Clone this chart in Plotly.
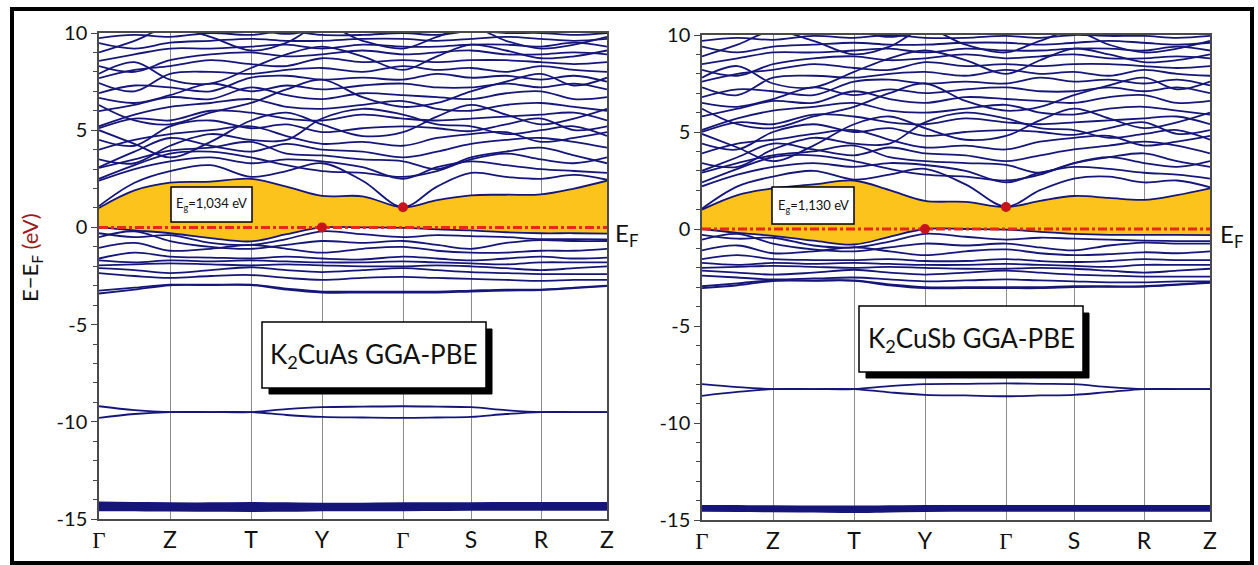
import plotly.graph_objects as go

W, H = 1258, 565

# k-path (15 samples: high-symmetry points and segment midpoints)
k_hs = [0, 71, 152, 223, 304, 372, 442, 508]
k_labels = ["Γ", "Z", "T", "Y", "Γ", "S", "R", "Z"]
k_pts = [0, 35.5, 71, 111.5, 152, 187.5, 223, 263.5, 304, 338, 372, 407, 442, 475, 508]

# ---------------- K2CuAs (left) ----------------
as_cond = [
    [1.00, 1.90, 2.30, 2.35, 2.50, 2.10, 1.62, 1.60, 1.03, 1.40, 1.65, 1.68, 1.70, 2.00, 2.40],
    [1.10, 2.30, 2.90, 3.20, 2.60, 2.90, 3.30, 2.40, 1.05, 2.10, 2.80, 2.60, 2.50, 2.70, 2.45],
    [2.40, 3.00, 3.40, 3.60, 3.30, 3.50, 3.40, 3.10, 2.50, 3.10, 3.40, 3.20, 3.00, 2.90, 2.80],
    [3.06, 3.50, 3.95, 4.10, 4.40, 3.80, 3.70, 3.50, 3.40, 3.00, 3.60, 3.90, 4.10, 3.70, 3.30],
    [3.10, 3.90, 4.60, 4.20, 3.90, 4.30, 4.00, 3.90, 3.60, 3.90, 4.30, 4.50, 4.60, 4.40, 4.10],
    [4.00, 4.50, 4.80, 5.00, 5.20, 4.70, 4.30, 4.40, 4.20, 4.60, 4.80, 4.90, 4.40, 4.60, 4.90],
    [4.50, 4.20, 5.20, 5.50, 5.10, 5.30, 4.90, 5.10, 5.20, 5.10, 4.95, 5.30, 5.60, 5.00, 5.20],
    [5.10, 5.60, 5.50, 6.00, 5.90, 5.60, 5.50, 5.80, 5.60, 5.50, 5.60, 5.70, 5.80, 5.90, 5.50],
    [5.20, 5.80, 6.20, 6.40, 6.60, 6.20, 6.10, 6.30, 6.50, 6.10, 6.00, 6.30, 6.40, 6.20, 6.00],
    [5.98, 6.30, 6.70, 6.60, 7.20, 6.80, 6.60, 6.90, 6.80, 6.70, 6.60, 6.90, 7.00, 6.60, 6.70],
    [6.66, 6.40, 6.80, 7.40, 7.00, 7.30, 7.10, 7.30, 7.40, 7.20, 7.20, 7.40, 7.20, 7.40, 7.10],
    [6.91, 7.30, 7.20, 7.00, 7.70, 7.80, 7.60, 7.70, 7.60, 7.90, 7.70, 7.80, 7.60, 7.80, 7.50],
    [7.43, 7.00, 7.90, 8.00, 7.90, 8.10, 8.20, 8.00, 8.30, 8.10, 8.20, 8.00, 8.30, 8.10, 8.00],
    [7.68, 8.10, 8.30, 8.60, 8.40, 8.30, 8.70, 8.50, 8.60, 8.50, 8.60, 8.60, 8.50, 8.40, 8.50],
    [8.30, 8.00, 8.60, 8.90, 9.00, 8.80, 8.90, 9.10, 8.90, 9.00, 9.10, 8.90, 8.90, 9.00, 8.90],
    [8.56, 8.90, 9.20, 9.20, 9.30, 9.40, 9.20, 9.40, 9.30, 9.30, 9.40, 9.40, 9.30, 9.50, 9.30],
    [9.48, 9.20, 9.50, 9.60, 9.70, 9.60, 9.60, 9.70, 9.70, 9.60, 9.70, 9.80, 9.70, 9.60, 9.70],
    [9.74, 9.90, 9.80, 10.0, 9.90, 10.1, 9.90, 9.90, 10.0, 9.90, 10.1, 10.0, 10.0, 9.90, 10.0],
    [10.2, 10.4, 10.1, 10.3, 10.2, 9.95, 10.2, 10.3, 10.2, 10.3, 10.2, 10.3, 10.4, 10.2, 10.3],
    [5.00, 4.30, 3.60, 4.40, 5.50, 5.90, 5.30, 4.70, 4.90, 5.70, 6.30, 5.80, 5.30, 5.60, 6.10],
    [6.30, 5.50, 5.30, 5.90, 6.40, 7.10, 7.60, 6.70, 6.20, 6.40, 7.00, 7.50, 7.90, 7.30, 7.70],
    [7.90, 8.50, 7.60, 7.40, 8.20, 8.90, 9.30, 8.80, 8.10, 8.80, 9.40, 9.10, 8.70, 8.80, 9.10],
    [3.50, 3.30, 4.20, 4.80, 4.50, 4.50, 5.60, 6.10, 5.80, 5.30, 5.20, 4.80, 5.00, 5.20, 4.70],
    [2.50, 3.20, 3.80, 3.90, 3.60, 3.20, 2.90, 2.80, 2.60, 2.90, 3.50, 3.80, 3.50, 3.30, 3.60],
    [9.00, 9.60, 10.3, 9.80, 9.10, 9.50, 10.4, 9.60, 9.20, 9.80, 10.3, 9.60, 9.20, 9.40, 9.80],
]
as_val = [
    [0.00, -0.15, -0.30, -0.55, -0.72, -0.35, 0.00, 0.00, -0.02, -0.10, -0.15, -0.25, -0.30, -0.30, -0.32],
    [-0.30, -0.50, -0.40, -0.80, -0.90, -0.60, -0.20, -0.35, -0.50, -0.40, -0.45, -0.50, -0.60, -0.60, -0.62],
    [-0.50, -0.20, -0.70, -1.00, -1.10, -0.90, -0.70, -0.80, -0.70, -0.90, -1.10, -0.80, -0.65, -0.70, -0.70],
    [-1.05, -0.80, -1.20, -1.10, -0.90, -1.10, -1.30, -1.10, -1.00, -1.20, -1.30, -1.30, -1.20, -1.20, -1.10],
    [-1.60, -1.30, -1.50, -1.55, -1.60, -1.50, -1.60, -1.65, -1.50, -1.60, -1.70, -1.60, -1.50, -1.60, -1.55],
    [-1.70, -1.80, -1.70, -1.75, -1.70, -1.75, -1.80, -1.80, -1.75, -1.80, -1.85, -1.90, -1.80, -1.80, -1.80],
    [-1.95, -1.90, -1.85, -1.90, -1.95, -1.90, -1.95, -2.00, -2.00, -1.95, -2.00, -2.10, -2.20, -2.10, -2.00],
    [-2.10, -2.20, -2.35, -2.20, -2.05, -2.20, -2.30, -2.20, -2.10, -2.20, -2.30, -2.35, -2.40, -2.40, -2.40],
    [-2.35, -2.50, -2.60, -2.50, -2.45, -2.60, -2.70, -2.60, -2.55, -2.60, -2.65, -2.70, -2.75, -2.70, -2.70],
    [-3.25, -3.10, -2.95, -2.95, -2.95, -3.15, -3.30, -3.30, -3.30, -3.30, -3.25, -3.20, -3.20, -3.10, -3.00],
    [-3.40, -3.20, -2.98, -2.97, -2.97, -3.20, -3.35, -3.35, -3.35, -3.35, -3.30, -3.25, -3.22, -3.12, -3.02],
]
as_semi = [
    [-9.20, -9.40, -9.50, -9.50, -9.50, -9.35, -9.25, -9.22, -9.20, -9.22, -9.25, -9.40, -9.50, -9.50, -9.50],
    [-9.80, -9.60, -9.50, -9.50, -9.50, -9.65, -9.75, -9.78, -9.80, -9.78, -9.75, -9.60, -9.50, -9.50, -9.50],
]
as_deep = [
    [-14.18, -14.20, -14.22, -14.22, -14.20, -14.22, -14.24, -14.24, -14.22, -14.22, -14.22, -14.20, -14.20, -14.20, -14.20],
    [-14.30, -14.31, -14.32, -14.32, -14.31, -14.32, -14.33, -14.33, -14.32, -14.32, -14.32, -14.31, -14.30, -14.30, -14.30],
    [-14.42, -14.42, -14.43, -14.44, -14.44, -14.43, -14.42, -14.42, -14.42, -14.42, -14.41, -14.41, -14.40, -14.40, -14.40],
    [-14.52, -14.53, -14.54, -14.55, -14.56, -14.55, -14.53, -14.52, -14.52, -14.51, -14.50, -14.50, -14.50, -14.50, -14.50],
]
as_gap = 1.034

# ---------------- K2CuSb (right) ----------------
sb_cond = [
    [1.00, 1.75, 2.10, 2.30, 2.50, 2.00, 1.45, 1.40, 1.13, 1.45, 1.70, 1.60, 1.50, 1.75, 2.10],
    [1.05, 2.20, 2.70, 3.00, 2.55, 2.80, 3.10, 2.30, 1.16, 2.00, 2.60, 2.70, 2.40, 2.50, 2.15],
    [2.20, 2.80, 3.20, 3.40, 3.20, 3.40, 3.30, 3.00, 2.40, 2.90, 3.20, 3.10, 2.90, 2.80, 2.60],
    [2.90, 3.40, 3.80, 4.00, 4.30, 3.70, 3.50, 3.40, 3.30, 2.90, 3.40, 3.70, 3.90, 3.50, 3.20],
    [3.00, 3.70, 4.40, 4.10, 3.80, 4.20, 3.90, 3.80, 3.50, 3.80, 4.10, 4.30, 4.50, 4.30, 3.90],
    [3.90, 4.40, 4.60, 4.90, 5.10, 4.60, 4.20, 4.30, 4.10, 4.50, 4.70, 4.80, 4.30, 4.50, 4.80],
    [4.40, 4.10, 5.00, 5.40, 5.00, 5.20, 4.80, 5.00, 5.10, 5.00, 4.85, 5.20, 5.50, 4.90, 5.10],
    [5.00, 5.50, 5.40, 5.90, 5.80, 5.50, 5.40, 5.70, 5.50, 5.40, 5.50, 5.60, 5.70, 5.80, 5.40],
    [5.10, 5.70, 6.10, 6.30, 6.50, 6.10, 6.00, 6.20, 6.40, 6.00, 5.90, 6.20, 6.30, 6.10, 5.90],
    [5.80, 6.20, 6.60, 6.50, 7.10, 6.70, 6.50, 6.80, 6.70, 6.60, 6.50, 6.80, 6.90, 6.50, 6.60],
    [6.50, 6.30, 6.70, 7.30, 6.90, 7.20, 7.00, 7.20, 7.30, 7.10, 7.10, 7.30, 7.10, 7.30, 7.00],
    [6.80, 7.20, 7.10, 6.90, 7.60, 7.70, 7.50, 7.60, 7.50, 7.80, 7.60, 7.70, 7.50, 7.70, 7.40],
    [7.30, 6.90, 7.80, 7.90, 7.80, 8.00, 8.10, 7.90, 8.20, 8.00, 8.10, 7.90, 8.20, 8.00, 7.90],
    [7.60, 8.00, 8.20, 8.50, 8.30, 8.20, 8.60, 8.40, 8.50, 8.40, 8.50, 8.50, 8.40, 8.30, 8.40],
    [8.20, 7.90, 8.50, 8.80, 8.90, 8.70, 8.80, 9.00, 8.80, 8.90, 9.00, 8.80, 8.80, 8.90, 8.80],
    [8.50, 8.80, 9.10, 9.10, 9.20, 9.30, 9.10, 9.30, 9.20, 9.20, 9.30, 9.30, 9.20, 9.40, 9.20],
    [9.40, 9.10, 9.40, 9.50, 9.60, 9.50, 9.50, 9.60, 9.60, 9.50, 9.60, 9.70, 9.60, 9.50, 9.60],
    [9.70, 9.85, 9.75, 9.95, 9.85, 10.0, 9.85, 9.85, 9.95, 9.85, 10.0, 9.95, 9.95, 9.85, 9.95],
    [10.2, 10.4, 10.1, 10.3, 10.2, 9.90, 10.2, 10.3, 10.2, 10.3, 10.2, 10.3, 10.4, 10.2, 10.3],
    [4.90, 4.20, 3.50, 4.30, 5.40, 5.80, 5.20, 4.60, 4.80, 5.60, 6.20, 5.70, 5.20, 5.50, 6.00],
    [6.20, 5.40, 5.20, 5.80, 6.30, 7.00, 7.50, 6.60, 6.10, 6.30, 6.90, 7.40, 7.80, 7.20, 7.60],
    [7.80, 8.40, 7.50, 7.30, 8.10, 8.80, 9.20, 8.70, 8.00, 8.70, 9.30, 9.00, 8.60, 8.70, 9.00],
    [3.40, 3.20, 4.10, 4.70, 4.40, 4.40, 5.50, 6.00, 5.70, 5.20, 5.10, 4.70, 4.90, 5.10, 4.60],
    [2.40, 3.10, 3.70, 3.80, 3.50, 3.10, 2.80, 2.70, 2.50, 2.80, 3.40, 3.70, 3.40, 3.20, 3.50],
    [8.90, 9.50, 10.2, 9.70, 9.00, 9.40, 10.3, 9.50, 9.10, 9.70, 10.2, 9.50, 9.10, 9.30, 9.70],
]
sb_val = [
    [0.00, -0.20, -0.35, -0.60, -0.80, -0.40, 0.00, 0.00, -0.03, -0.15, -0.25, -0.30, -0.30, -0.30, -0.32],
    [-0.30, -0.50, -0.45, -0.85, -0.95, -0.65, -0.25, -0.40, -0.55, -0.45, -0.50, -0.55, -0.60, -0.62, -0.62],
    [-0.55, -0.25, -0.75, -1.05, -1.15, -0.95, -0.75, -0.85, -0.75, -0.95, -1.10, -0.85, -0.70, -0.75, -0.75],
    [-1.10, -0.85, -1.25, -1.15, -0.95, -1.15, -1.35, -1.15, -1.05, -1.25, -1.35, -1.30, -1.20, -1.25, -1.15],
    [-1.55, -1.35, -1.55, -1.60, -1.60, -1.55, -1.65, -1.65, -1.55, -1.65, -1.70, -1.65, -1.55, -1.60, -1.60],
    [-1.75, -1.85, -1.75, -1.80, -1.75, -1.80, -1.85, -1.85, -1.80, -1.85, -1.90, -1.95, -1.85, -1.85, -1.85],
    [-2.00, -1.95, -1.90, -1.95, -2.00, -1.95, -2.00, -2.05, -2.05, -2.00, -2.05, -2.15, -2.25, -2.15, -2.05],
    [-2.15, -2.25, -2.35, -2.25, -2.10, -2.25, -2.35, -2.25, -2.15, -2.25, -2.35, -2.40, -2.45, -2.45, -2.45],
    [-2.40, -2.50, -2.60, -2.55, -2.50, -2.60, -2.70, -2.65, -2.60, -2.65, -2.70, -2.75, -2.75, -2.70, -2.70],
    [-2.95, -2.80, -2.65, -2.65, -2.65, -2.85, -3.00, -3.00, -3.00, -3.00, -2.95, -2.95, -2.95, -2.85, -2.75],
    [-3.05, -2.90, -2.68, -2.67, -2.67, -2.90, -3.05, -3.05, -3.05, -3.05, -3.00, -2.98, -2.97, -2.88, -2.78],
]
sb_semi = [
    [-8.00, -8.15, -8.25, -8.25, -8.25, -8.10, -8.00, -7.98, -7.96, -7.98, -8.00, -8.15, -8.25, -8.25, -8.25],
    [-8.60, -8.40, -8.25, -8.25, -8.25, -8.42, -8.55, -8.58, -8.62, -8.58, -8.55, -8.40, -8.25, -8.25, -8.25],
]
sb_deep = [
    [-14.30, -14.31, -14.32, -14.33, -14.33, -14.32, -14.31, -14.30, -14.30, -14.30, -14.30, -14.30, -14.30, -14.30, -14.30],
    [-14.40, -14.41, -14.42, -14.44, -14.46, -14.43, -14.41, -14.40, -14.40, -14.40, -14.40, -14.40, -14.40, -14.40, -14.40],
    [-14.50, -14.51, -14.52, -14.54, -14.56, -14.53, -14.51, -14.50, -14.50, -14.50, -14.50, -14.50, -14.50, -14.50, -14.50],
]
sb_gap = 1.130

# ---------------- styling ----------------
BAND = "#16167a"
FILL = "#fbc31c"
RED = "#e8261c"
DOT = "#c8141c"
FONT = "Lato"

fig = go.Figure()


def add_panel(xa, ya, cond, val, semi, deep):
    # yellow gap between valence maximum band and conduction minimum band
    fig.add_trace(go.Scatter(x=k_pts, y=val[0], mode="lines", xaxis=xa, yaxis=ya,
                             line=dict(width=0, color="rgba(0,0,0,0)", shape="spline"),
                             showlegend=False, hoverinfo="skip"))
    fig.add_trace(go.Scatter(x=k_pts, y=cond[0], mode="lines", xaxis=xa, yaxis=ya,
                             fill="tonexty", fillcolor=FILL,
                             line=dict(width=0, color="rgba(0,0,0,0)", shape="spline"),
                             showlegend=False, hoverinfo="skip"))
    for b in cond + val + semi:
        fig.add_trace(go.Scatter(x=k_pts, y=b, mode="lines", xaxis=xa, yaxis=ya,
                                 line=dict(width=1.8, color=BAND, shape="spline"),
                                 showlegend=False, hoverinfo="skip"))
    for b in deep:
        fig.add_trace(go.Scatter(x=k_pts, y=b, mode="lines", xaxis=xa, yaxis=ya,
                                 line=dict(width=3, color=BAND, shape="spline"),
                                 showlegend=False, hoverinfo="skip"))
    # Fermi level
    fig.add_trace(go.Scatter(x=[k_hs[0], k_hs[-1]], y=[0, 0], mode="lines", xaxis=xa, yaxis=ya,
                             line=dict(width=3, color=RED, dash="dashdot"),
                             showlegend=False, hoverinfo="skip"))


add_panel("x", "y", as_cond, as_val, as_semi, as_deep)
add_panel("x2", "y2", sb_cond, sb_val, sb_semi, sb_deep)

# VBM / CBM markers
fig.add_trace(go.Scatter(x=[k_hs[3], k_hs[4]], y=[0, as_gap], mode="markers", xaxis="x", yaxis="y",
                         marker=dict(size=10, color=DOT), showlegend=False, hoverinfo="skip"))
fig.add_trace(go.Scatter(x=[k_hs[3], k_hs[4]], y=[0, sb_gap], mode="markers", xaxis="x2", yaxis="y2",
                         marker=dict(size=10, color=DOT), showlegend=False, hoverinfo="skip"))

ytickvals = [-15, -10, -5, 0, 5, 10]
yticktext = ["-15", "-10", "-5", "0", "5", "10"]
xticktext = ["<span style='font-family:Liberation Serif'>Γ</span>" if l == "Γ" else l for l in k_labels]


def xaxis(dom, anchor):
    return dict(domain=dom, anchor=anchor, range=[k_hs[0], k_hs[-1]], tickmode="array", tickvals=k_hs,
                ticktext=xticktext, showgrid=True, gridcolor="#8c8c8c", gridwidth=1,
                zeroline=False, showline=True, mirror=True, linecolor="#4a4a4a", linewidth=1.5,
                ticks="", tickfont=dict(family=FONT, size=23, color="#111"), automargin=False)


def yaxis(dom, anchor):
    return dict(domain=dom, anchor=anchor, range=[-15, 10], tickmode="array", tickvals=ytickvals,
                ticktext=yticktext, showgrid=False, zeroline=False, showline=True, mirror=True,
                linecolor="#4a4a4a", linewidth=1.5, ticks="outside", ticklen=6, tickcolor="#444",
                minor=dict(tickmode="array", tickvals=list(range(-15, 11)), ticks="outside",
                           ticklen=4, tickcolor="#444"),
                tickfont=dict(family=FONT, size=20, color="#111"), automargin=False)


def px(x):
    return x / W


def py(y):
    return 1 - y / H


fig.update_layout(
    width=W, height=H, autosize=False,
    margin=dict(l=0, r=0, t=0, b=0, pad=0, autoexpand=False),
    paper_bgcolor="white", plot_bgcolor="white",
    xaxis=xaxis([px(99), px(607)], "y"),
    yaxis=yaxis([py(519), py(33)], "x"),
    xaxis2=xaxis([px(702), px(1210)], "y2"),
    yaxis2=yaxis([py(520), py(35)], "x2"),
)

shapes = [
    # outer frame
    dict(type="rect", xref="paper", yref="paper", x0=px(12), x1=px(1252), y0=py(563), y1=py(9),
         line=dict(color="black", width=4), fillcolor="rgba(0,0,0,0)", layer="above"),
    # Eg boxes
    dict(type="rect", xref="paper", yref="paper", x0=px(171), x1=px(252), y0=py(222), y1=py(187),
         line=dict(color="black", width=1.5), fillcolor="white", layer="above"),
    dict(type="rect", xref="paper", yref="paper", x0=px(772), x1=px(854), y0=py(224), y1=py(187),
         line=dict(color="black", width=1.5), fillcolor="white", layer="above"),
    # compound boxes with shadow
    dict(type="rect", xref="paper", yref="paper", x0=px(269), x1=px(492), y0=py(394), y1=py(329),
         line=dict(color="black", width=1), fillcolor="black", layer="above"),
    dict(type="rect", xref="paper", yref="paper", x0=px(262), x1=px(486), y0=py(388), y1=py(322),
         line=dict(color="black", width=1.5), fillcolor="white", layer="above"),
    dict(type="rect", xref="paper", yref="paper", x0=px(866), x1=px(1089), y0=py(378), y1=py(313),
         line=dict(color="black", width=1), fillcolor="black", layer="above"),
    dict(type="rect", xref="paper", yref="paper", x0=px(859), x1=px(1083), y0=py(372), y1=py(306),
         line=dict(color="black", width=1.5), fillcolor="white", layer="above"),
]


def ann(text, x, y, size, **kw):
    return dict(text=text, x=px(x), y=py(y), xref="paper", yref="paper", showarrow=False,
                xanchor="center", yanchor="middle", font=dict(family=FONT, size=size, color="#111"), **kw)


annotations = [
    ann("E<sub>g</sub>=1,034 eV", 211.5, 204.5, 13),
    ann("E<sub>g</sub>=1,130 eV", 813, 205.5, 13),
    ann("K<sub>2</sub>CuAs GGA-PBE", 374, 355, 26),
    ann("K<sub>2</sub>CuSb GGA-PBE", 971, 339, 26),
    ann("E<sub>F</sub>", 626, 234, 24),
    ann("E<sub>F</sub>", 1231, 236, 24),
    ann("E−E<sub>F</sub> <span style='color:#9b1c1c'>(eV)</span>", 31, 258, 22, textangle=-90),
]

fig.update_layout(shapes=shapes, annotations=annotations)

fig.write_html("out.html")
